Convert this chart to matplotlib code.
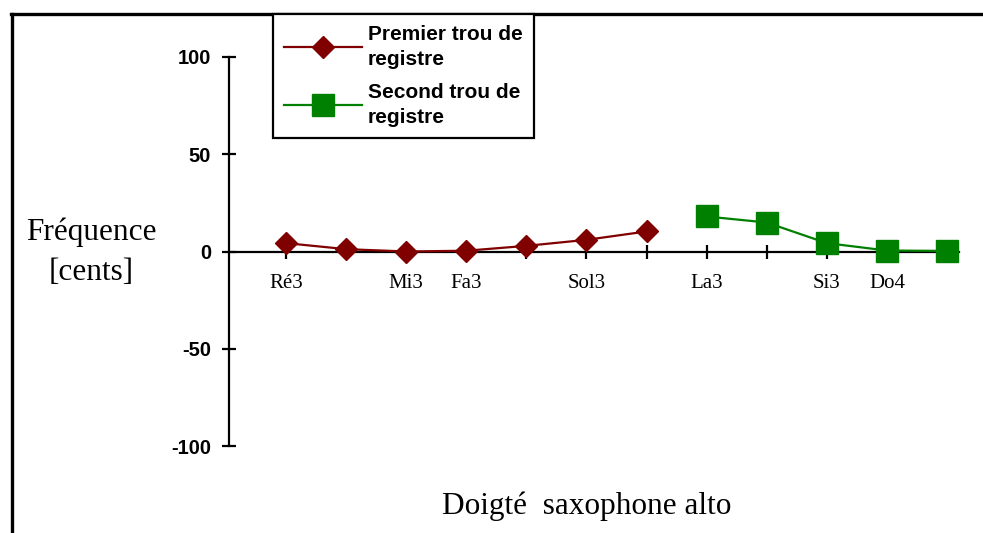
import matplotlib
matplotlib.use("Agg")
import matplotlib.pyplot as plt
from matplotlib.lines import Line2D

# Données
categories = ["Ré3", "", "Mi3", "Fa3", "", "Sol3", "", "La3", "", "Si3", "Do4", ""]
pos_premier = [1, 2, 3, 4, 5, 6, 7]
premier_trou = [4.3, 1.2, 0.0, 0.4, 2.9, 6.0, 10.3]
pos_second = [8, 9, 10, 11, 12]
second_trou = [18.0, 14.9, 4.3, 0.5, 0.3]
yticks = [-100, -50, 0, 50, 100]

W, H = 983, 533
fig = plt.figure(figsize=(W / 100, H / 100), dpi=100)
fig.patch.set_facecolor("white")

# Axe principal
ax = fig.add_axes([229 / W, 1 - 446 / H, 730 / W, (446 - 57) / H])
ax.set_xlim(0.05, 12.2)
ax.set_ylim(-100, 100)

ax.plot(pos_premier, premier_trou, color="#800000", linewidth=1.6, marker="D",
        markersize=11, markerfacecolor="#800000", markeredgecolor="#800000",
        clip_on=False, zorder=5, label="Premier trou de\nregistre")
ax.plot(pos_second, second_trou, color="#008000", linewidth=1.6, marker="s",
        markersize=15.5, markerfacecolor="#008000", markeredgecolor="#008000",
        clip_on=False, zorder=5, label="Second trou de\nregistre")

# Axes style Excel
for s in ["top", "right"]:
    ax.spines[s].set_visible(False)
ax.spines["bottom"].set_position(("data", 0))
ax.spines["left"].set_linewidth(1.6)
ax.spines["bottom"].set_linewidth(1.6)

ax.set_yticks(yticks)
ax.set_yticklabels([str(v) for v in yticks], fontfamily="Liberation Sans",
                   fontweight="bold", fontsize=14.5)
ax.tick_params(axis="y", direction="inout", length=10, width=1.6, pad=8)

ax.set_xticks(range(1, len(categories) + 1))
ax.set_xticklabels(categories, fontfamily="Liberation Serif", fontsize=15)
ax.tick_params(axis="x", direction="inout", length=10, width=1.6, pad=11)

# Titres des axes
fig.text(91 / W, 1 - 252 / H, "Fréquence\n[cents]", fontfamily="Liberation Serif",
         fontsize=22.5, ha="center", va="center", linespacing=1.5)
fig.text(587 / W, 1 - 506 / H, "Doigté  saxophone alto", fontfamily="Liberation Serif",
         fontsize=22.5, ha="center", va="center")

# Légende
leg = fig.legend(loc="upper left", bbox_to_anchor=(273 / W, 1 - 14 / H),
                 prop={"family": "Liberation Sans", "weight": "bold", "size": 15},
                 frameon=True, fancybox=False, edgecolor="black", framealpha=1,
                 handlelength=3.7, handletextpad=0.3, labelspacing=0.7,
                 borderpad=0.55, borderaxespad=0)
leg.get_frame().set_linewidth(1.6)
for t in leg.get_texts():
    t.set_linespacing(1.35)

# Cadre de la figure (haut et gauche)
fig.add_artist(Line2D([11 / W, 1], [1 - 14 / H, 1 - 14 / H], color="black",
                      linewidth=2.4, transform=fig.transFigure))
fig.add_artist(Line2D([12 / W, 12 / W], [0, 1 - 14 / H], color="black",
                      linewidth=2.4, transform=fig.transFigure))

fig.savefig("out.png", dpi=100)
